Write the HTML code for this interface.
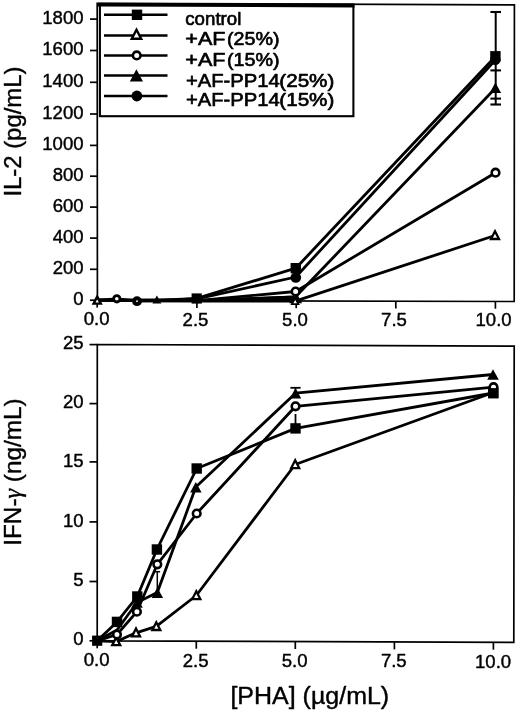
<!DOCTYPE html>
<html><head><meta charset="utf-8"><title>chart</title>
<style>
html,body{margin:0;padding:0;background:#fff;}
svg{display:block;font-family:"Liberation Sans",sans-serif;will-change:transform;}
text{stroke:#000;stroke-width:0.4px;stroke-linejoin:round;}
</style></head><body>
<svg width="520" height="712" viewBox="0 0 520 712">

<polygon points="97.2,3.4 514.4,4.8 514.2,301.5 97.4,300.4" fill="none" stroke="#000" stroke-width="1.7"/>
<line x1="90.0" y1="300.2" x2="97.2" y2="300.2" stroke="#000" stroke-width="1.7"/>
<text x="83.6" y="304.8" font-size="17.5" text-anchor="end" textLength="10.3" lengthAdjust="spacingAndGlyphs" >0</text>
<line x1="90.0" y1="269.3" x2="97.2" y2="269.3" stroke="#000" stroke-width="1.7"/>
<text x="83.6" y="273.9" font-size="17.5" text-anchor="end" textLength="30.9" lengthAdjust="spacingAndGlyphs" >200</text>
<line x1="90.0" y1="238.1" x2="97.2" y2="238.1" stroke="#000" stroke-width="1.7"/>
<text x="83.6" y="242.7" font-size="17.5" text-anchor="end" textLength="30.9" lengthAdjust="spacingAndGlyphs" >400</text>
<line x1="90.0" y1="207.1" x2="97.2" y2="207.1" stroke="#000" stroke-width="1.7"/>
<text x="83.6" y="211.7" font-size="17.5" text-anchor="end" textLength="30.9" lengthAdjust="spacingAndGlyphs" >600</text>
<line x1="90.0" y1="176.2" x2="97.2" y2="176.2" stroke="#000" stroke-width="1.7"/>
<text x="83.6" y="180.8" font-size="17.5" text-anchor="end" textLength="30.9" lengthAdjust="spacingAndGlyphs" >800</text>
<line x1="90.0" y1="145.4" x2="97.2" y2="145.4" stroke="#000" stroke-width="1.7"/>
<text x="83.6" y="150.0" font-size="17.5" text-anchor="end" textLength="41.3" lengthAdjust="spacingAndGlyphs" >1000</text>
<line x1="90.0" y1="114.0" x2="97.2" y2="114.0" stroke="#000" stroke-width="1.7"/>
<text x="83.6" y="118.6" font-size="17.5" text-anchor="end" textLength="41.3" lengthAdjust="spacingAndGlyphs" >1200</text>
<line x1="90.0" y1="82.3" x2="97.2" y2="82.3" stroke="#000" stroke-width="1.7"/>
<text x="83.6" y="86.9" font-size="17.5" text-anchor="end" textLength="41.3" lengthAdjust="spacingAndGlyphs" >1400</text>
<line x1="90.0" y1="50.5" x2="97.2" y2="50.5" stroke="#000" stroke-width="1.7"/>
<text x="83.6" y="55.1" font-size="17.5" text-anchor="end" textLength="41.3" lengthAdjust="spacingAndGlyphs" >1600</text>
<line x1="90.0" y1="19.1" x2="97.2" y2="19.1" stroke="#000" stroke-width="1.7"/>
<text x="83.6" y="23.7" font-size="17.5" text-anchor="end" textLength="41.3" lengthAdjust="spacingAndGlyphs" >1800</text>
<line x1="97.2" y1="300.3" x2="97.2" y2="307.6" stroke="#000" stroke-width="1.7"/>
<text x="96.6" y="325.3" font-size="17.5" text-anchor="middle" textLength="25.8" lengthAdjust="spacingAndGlyphs" >0.0</text>
<line x1="196.9" y1="300.6" x2="196.9" y2="307.9" stroke="#000" stroke-width="1.7"/>
<text x="195.5" y="325.6" font-size="17.5" text-anchor="middle" textLength="25.8" lengthAdjust="spacingAndGlyphs" >2.5</text>
<line x1="296.2" y1="300.9" x2="296.2" y2="308.2" stroke="#000" stroke-width="1.7"/>
<text x="295.0" y="325.9" font-size="17.5" text-anchor="middle" textLength="25.8" lengthAdjust="spacingAndGlyphs" >5.0</text>
<line x1="395.8" y1="301.2" x2="395.8" y2="308.5" stroke="#000" stroke-width="1.7"/>
<text x="394.0" y="326.2" font-size="17.5" text-anchor="middle" textLength="25.8" lengthAdjust="spacingAndGlyphs" >7.5</text>
<line x1="495.4" y1="301.4" x2="495.4" y2="308.7" stroke="#000" stroke-width="1.7"/>
<text x="493.6" y="326.4" font-size="17.5" text-anchor="middle" textLength="36.1" lengthAdjust="spacingAndGlyphs" >10.0</text>
<polyline fill="none" stroke="#000" stroke-width="2.8" stroke-linejoin="round" stroke-linecap="round" points="97.2,300.2 117.0,300.2 136.8,300.6 157.0,300.4 196.9,298.3 295.8,268.2 495.4,56.5"/>
<polyline fill="none" stroke="#000" stroke-width="2.8" stroke-linejoin="round" stroke-linecap="round" points="97.2,300.2 157.0,300.4 196.9,298.9 295.8,277.0 495.4,60.0"/>
<polyline fill="none" stroke="#000" stroke-width="2.8" stroke-linejoin="round" stroke-linecap="round" points="97.2,300.2 117.0,298.8 136.8,301.0 157.0,300.8 196.9,300.6 295.6,291.5 495.5,172.7"/>
<polyline fill="none" stroke="#000" stroke-width="2.8" stroke-linejoin="round" stroke-linecap="round" points="97.2,300.2 157.0,300.0 196.9,300.6 295.6,296.8 495.6,88.0"/>
<polyline fill="none" stroke="#000" stroke-width="2.8" stroke-linejoin="round" stroke-linecap="round" points="97.2,300.4 196.9,301.0 295.2,301.2 495.0,235.5"/>
<polygon points="196.9,299.3 295.6,295.6 295.6,301.9 196.9,301.6" fill="#000"/>
<line x1="495.7" y1="12.0" x2="495.7" y2="104.5" stroke="#000" stroke-width="2.0"/>
<line x1="490.4" y1="12.0" x2="501.0" y2="12.0" stroke="#000" stroke-width="2.1"/>
<line x1="490.4" y1="70.4" x2="501.0" y2="70.4" stroke="#000" stroke-width="2.1"/>
<line x1="490.4" y1="98.6" x2="501.0" y2="98.6" stroke="#000" stroke-width="2.1"/>
<line x1="490.4" y1="104.5" x2="501.0" y2="104.5" stroke="#000" stroke-width="2.1"/>
<polygon points="295.6,291.2 289.1,303.2 302.1,303.2" fill="#000"/>
<rect x="290.6" y="263.0" width="10.4" height="10.4" fill="#000"/>
<circle cx="295.8" cy="277.5" r="5.3" fill="#000"/>
<circle cx="295.6" cy="291.5" r="3.8" fill="#fff" stroke="#000" stroke-width="2.6"/>
<polygon points="295.2,298.0 291.9,304.1 298.4,304.1" fill="#fff" stroke="#000" stroke-width="1.8" stroke-linejoin="miter"/>
<rect x="490.2" y="51.1" width="10.4" height="10.4" fill="#000"/>
<circle cx="495.4" cy="59.8" r="5.2" fill="#000"/>
<polygon points="495.4,82.5 489.6,93.0 501.1,93.0" fill="#000"/>
<circle cx="495.5" cy="172.7" r="3.8" fill="#fff" stroke="#000" stroke-width="2.6"/>
<polygon points="495.0,231.2 491.0,239.0 499.0,239.0" fill="#fff" stroke="#000" stroke-width="2.3" stroke-linejoin="miter"/>
<polygon points="97.2,296.6 93.6,303.6 100.8,303.6" fill="#fff" stroke="#000" stroke-width="2.4" stroke-linejoin="miter"/>
<circle cx="116.8" cy="298.8" r="3.2" fill="#fff" stroke="#000" stroke-width="2.8"/>
<circle cx="137.0" cy="301.2" r="4.9" fill="#000"/>
<circle cx="137" cy="301.2" r="0.9" fill="#fff"/>
<polygon points="156.9,295.6 152.4,303.6 161.4,303.6" fill="#000"/>
<rect x="191.6" y="293.4" width="10.2" height="10.2" fill="#000"/>
<rect x="99.9" y="4.9" width="253.5" height="111.3" fill="#fff" stroke="#000" stroke-width="2.1"/>
<line x1="98.0" y1="4.7" x2="354.5" y2="5.5" stroke="#000" stroke-width="3.8"/>
<line x1="104.0" y1="14.8" x2="167.5" y2="14.8" stroke="#000" stroke-width="2.5"/>
<line x1="104.0" y1="35.4" x2="167.5" y2="35.4" stroke="#000" stroke-width="2.5"/>
<line x1="104.0" y1="55.5" x2="167.5" y2="55.5" stroke="#000" stroke-width="2.5"/>
<line x1="104.0" y1="75.6" x2="167.5" y2="75.6" stroke="#000" stroke-width="2.5"/>
<line x1="104.0" y1="96.0" x2="167.5" y2="96.0" stroke="#000" stroke-width="2.5"/>
<rect x="131.8" y="9.6" width="10.4" height="10.4" fill="#000"/>
<polygon points="136.5,29.8 131.8,38.8 141.2,38.8" fill="#fff" stroke="#000" stroke-width="2.4" stroke-linejoin="miter"/>
<circle cx="136.7" cy="55.4" r="3.8" fill="#fff" stroke="#000" stroke-width="2.6"/>
<polygon points="136.4,69.3 129.8,81.5 143.0,81.5" fill="#000"/>
<circle cx="136.9" cy="96.0" r="5.4" fill="#000"/>
<text x="185.3" y="25.0" font-size="18" text-anchor="start" textLength="56" lengthAdjust="spacingAndGlyphs" style="stroke-width:0.65px">control</text>
<text x="185.3" y="45.3" font-size="18" text-anchor="start" textLength="40.2" lengthAdjust="spacingAndGlyphs" style="stroke-width:0.65px">+AF</text>
<text x="227.0" y="45.3" font-size="18" text-anchor="start" textLength="52.6" lengthAdjust="spacingAndGlyphs" style="stroke-width:0.65px">(25%)</text>
<text x="185.3" y="65.5" font-size="18" text-anchor="start" textLength="40.2" lengthAdjust="spacingAndGlyphs" style="stroke-width:0.65px">+AF</text>
<text x="227.0" y="65.5" font-size="18" text-anchor="start" textLength="52.6" lengthAdjust="spacingAndGlyphs" style="stroke-width:0.65px">(15%)</text>
<text x="185.9" y="86.6" font-size="18" text-anchor="start" textLength="93.8" lengthAdjust="spacingAndGlyphs" style="stroke-width:0.65px">+AF-PP14</text>
<text x="279.3" y="86.6" font-size="18" text-anchor="start" textLength="55" lengthAdjust="spacingAndGlyphs" style="stroke-width:0.65px">(25%)</text>
<text x="185.9" y="105.8" font-size="18" text-anchor="start" textLength="93.8" lengthAdjust="spacingAndGlyphs" style="stroke-width:0.65px">+AF-PP14</text>
<text x="279.3" y="105.8" font-size="18" text-anchor="start" textLength="55" lengthAdjust="spacingAndGlyphs" style="stroke-width:0.65px">(15%)</text>
<text transform="translate(21.1,196.6) rotate(-90)" font-size="24.5" textLength="130" lengthAdjust="spacingAndGlyphs">IL-2 (pg/mL)</text>
<polygon points="97.3,344.5 514.2,346.2 513.8,642.3 97.2,640.8" fill="none" stroke="#000" stroke-width="1.7"/>
<line x1="89.5" y1="640.8" x2="97.2" y2="640.8" stroke="#000" stroke-width="1.7"/>
<text x="83.6" y="645.4" font-size="17.5" text-anchor="end" textLength="10.3" lengthAdjust="spacingAndGlyphs" >0</text>
<line x1="89.5" y1="581.5" x2="97.2" y2="581.5" stroke="#000" stroke-width="1.7"/>
<text x="83.6" y="586.1" font-size="17.5" text-anchor="end" textLength="10.3" lengthAdjust="spacingAndGlyphs" >5</text>
<line x1="89.5" y1="521.9" x2="97.2" y2="521.9" stroke="#000" stroke-width="1.7"/>
<text x="83.6" y="526.5" font-size="17.5" text-anchor="end" textLength="20.6" lengthAdjust="spacingAndGlyphs" >10</text>
<line x1="89.5" y1="461.9" x2="97.2" y2="461.9" stroke="#000" stroke-width="1.7"/>
<text x="83.6" y="466.5" font-size="17.5" text-anchor="end" textLength="20.6" lengthAdjust="spacingAndGlyphs" >15</text>
<line x1="89.5" y1="403.6" x2="97.2" y2="403.6" stroke="#000" stroke-width="1.7"/>
<text x="83.6" y="408.2" font-size="17.5" text-anchor="end" textLength="20.6" lengthAdjust="spacingAndGlyphs" >20</text>
<line x1="89.5" y1="344.6" x2="97.2" y2="344.6" stroke="#000" stroke-width="1.7"/>
<text x="83.6" y="349.2" font-size="17.5" text-anchor="end" textLength="20.6" lengthAdjust="spacingAndGlyphs" >25</text>
<line x1="97.2" y1="640.8" x2="97.2" y2="648.3" stroke="#000" stroke-width="1.7"/>
<text x="96.6" y="666.3" font-size="17.5" text-anchor="middle" textLength="25.8" lengthAdjust="spacingAndGlyphs" >0.0</text>
<line x1="196.3" y1="641.2" x2="196.3" y2="648.7" stroke="#000" stroke-width="1.7"/>
<text x="195.7" y="666.7" font-size="17.5" text-anchor="middle" textLength="25.8" lengthAdjust="spacingAndGlyphs" >2.5</text>
<line x1="295.3" y1="641.5" x2="295.3" y2="649.0" stroke="#000" stroke-width="1.7"/>
<text x="294.7" y="667.0" font-size="17.5" text-anchor="middle" textLength="25.8" lengthAdjust="spacingAndGlyphs" >5.0</text>
<line x1="394.4" y1="641.9" x2="394.4" y2="649.4" stroke="#000" stroke-width="1.7"/>
<text x="393.8" y="667.4" font-size="17.5" text-anchor="middle" textLength="25.8" lengthAdjust="spacingAndGlyphs" >7.5</text>
<line x1="493.4" y1="642.2" x2="493.4" y2="649.7" stroke="#000" stroke-width="1.7"/>
<text x="493.1" y="667.7" font-size="17.5" text-anchor="middle" textLength="36.1" lengthAdjust="spacingAndGlyphs" >10.0</text>
<polyline fill="none" stroke="#000" stroke-width="2.8" stroke-linejoin="round" stroke-linecap="round" points="97.2,640.8 117.0,621.9 137.3,596.5 156.9,549.5 196.7,468.5 295.5,428.4 493.3,393.0"/>
<polyline fill="none" stroke="#000" stroke-width="2.8" stroke-linejoin="round" stroke-linecap="round" points="97.2,640.8 117.0,634.5 136.9,611.7 157.3,564.3 196.7,513.5 295.5,406.3 493.5,387.2"/>
<polyline fill="none" stroke="#000" stroke-width="2.8" stroke-linejoin="round" stroke-linecap="round" points="97.2,640.8 117.0,630.0 137.0,602.5 157.3,592.6 195.8,487.1 295.5,393.2 493.0,374.5"/>
<polyline fill="none" stroke="#000" stroke-width="2.8" stroke-linejoin="round" stroke-linecap="round" points="97.2,640.8 116.2,641.6 136.0,632.8 156.3,626.4 196.3,595.5 295.2,464.5 493.3,392.5"/>
<line x1="157.3" y1="571.7" x2="157.3" y2="590.0" stroke="#000" stroke-width="1.5"/>
<line x1="154.5" y1="571.7" x2="160.1" y2="571.7" stroke="#000" stroke-width="1.5"/>
<line x1="295.5" y1="387.8" x2="295.5" y2="393.0" stroke="#000" stroke-width="1.6"/>
<line x1="290.4" y1="387.8" x2="300.6" y2="387.8" stroke="#000" stroke-width="1.8"/>
<line x1="295.5" y1="414.0" x2="295.5" y2="428.0" stroke="#000" stroke-width="1.8"/>
<rect x="92.1" y="635.6" width="10.2" height="10.2" fill="#000"/>
<polygon points="116.2,637.4 112.2,645.2 120.2,645.2" fill="#fff" stroke="#000" stroke-width="2.3" stroke-linejoin="miter"/>
<polygon points="136.0,628.6 132.0,636.4 140.0,636.4" fill="#fff" stroke="#000" stroke-width="2.3" stroke-linejoin="miter"/>
<polygon points="156.3,622.2 152.3,630.0 160.3,630.0" fill="#fff" stroke="#000" stroke-width="2.3" stroke-linejoin="miter"/>
<polygon points="196.3,591.3 192.3,599.1 200.3,599.1" fill="#fff" stroke="#000" stroke-width="2.3" stroke-linejoin="miter"/>
<polygon points="295.2,460.3 291.2,468.1 299.2,468.1" fill="#fff" stroke="#000" stroke-width="2.3" stroke-linejoin="miter"/>
<polygon points="137.0,597.2 131.2,607.8 142.8,607.8" fill="#000"/>
<polygon points="157.3,587.4 151.6,597.9 163.1,597.9" fill="#000"/>
<polygon points="195.8,481.9 190.1,492.4 201.6,492.4" fill="#000"/>
<polygon points="295.5,387.9 289.8,398.4 301.2,398.4" fill="#000"/>
<polygon points="493.0,369.2 487.2,379.8 498.8,379.8" fill="#000"/>
<rect x="111.8" y="616.7" width="10.4" height="10.4" fill="#000"/>
<rect x="132.1" y="591.3" width="10.4" height="10.4" fill="#000"/>
<rect x="151.7" y="544.3" width="10.4" height="10.4" fill="#000"/>
<rect x="191.5" y="463.3" width="10.4" height="10.4" fill="#000"/>
<rect x="290.3" y="423.2" width="10.4" height="10.4" fill="#000"/>
<rect x="488.1" y="387.8" width="10.4" height="10.4" fill="#000"/>
<circle cx="117.0" cy="634.5" r="3.8" fill="#fff" stroke="#000" stroke-width="2.6"/>
<circle cx="136.9" cy="611.7" r="3.8" fill="#fff" stroke="#000" stroke-width="2.6"/>
<circle cx="157.3" cy="564.3" r="3.8" fill="#fff" stroke="#000" stroke-width="2.6"/>
<circle cx="196.7" cy="513.5" r="3.8" fill="#fff" stroke="#000" stroke-width="2.6"/>
<circle cx="295.5" cy="406.3" r="3.8" fill="#fff" stroke="#000" stroke-width="2.6"/>
<circle cx="493.5" cy="387.2" r="3.8" fill="#fff" stroke="#000" stroke-width="2.6"/>
<rect x="488.2" y="388.1" width="10.2" height="10.2" fill="#000"/>
<text transform="translate(20.9,545.8) rotate(-90)" font-size="24.5" textLength="147.5" lengthAdjust="spacingAndGlyphs">IFN-<tspan font-family="Liberation Serif" font-style="italic">γ</tspan> (ng/mL)</text>
<text x="230.4" y="704.2" font-size="23" text-anchor="start" textLength="158.8" lengthAdjust="spacingAndGlyphs" >[PHA] (µg/mL)</text>
</svg>
</body></html>
